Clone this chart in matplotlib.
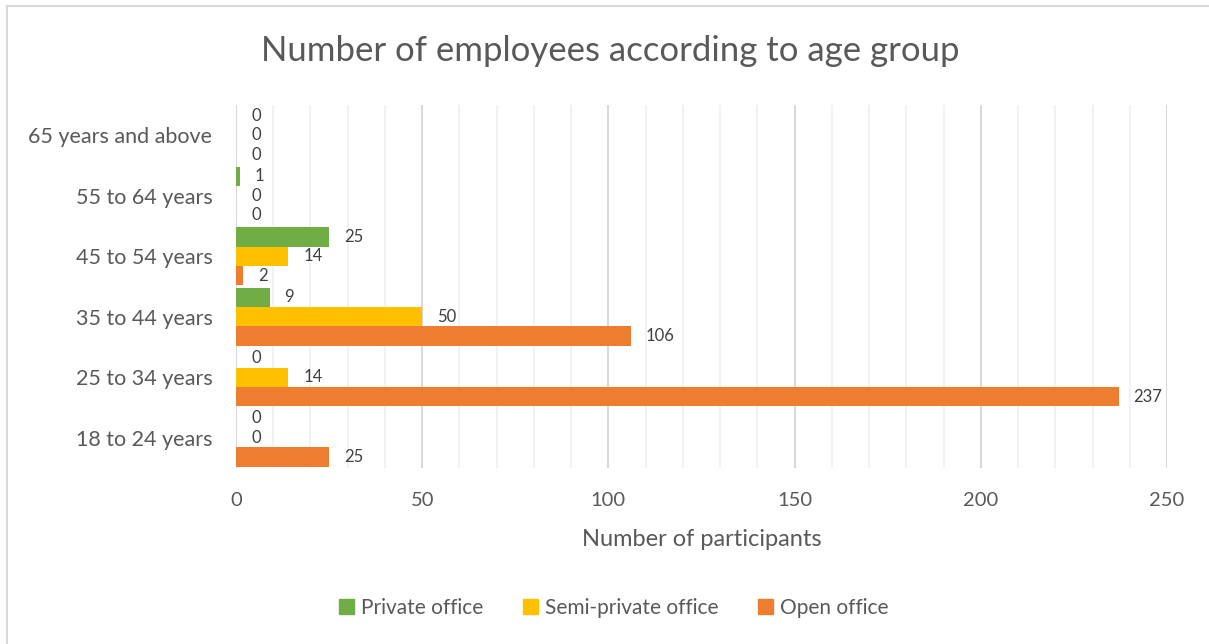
import numpy as np
import matplotlib.pyplot as plt
from matplotlib.lines import Line2D
from matplotlib.patches import Patch
from matplotlib.ticker import MultipleLocator

plt.rcParams['font.family'] = ['Lato', 'DejaVu Sans']

# Age groups, bottom to top
categories = ["18 to 24 years", "25 to 34 years", "35 to 44 years",
              "45 to 54 years", "55 to 64 years", "65 years and above"]
private = [0, 0, 9, 25, 1, 0]
semi_private = [0, 14, 50, 14, 0, 0]
open_office = [25, 237, 106, 2, 0, 0]

series = [("Private office", private, "#70AD47"),
          ("Semi-private office", semi_private, "#FFC000"),
          ("Open office", open_office, "#ED7D31")]

fig = plt.figure(figsize=(12.09, 6.44), dpi=100)
ax = fig.add_axes([236 / 1209, 1 - 468 / 644, 931 / 1209, 363 / 644])

y = np.arange(len(categories))
h = 0.32
for i, (name, vals, col) in enumerate(series):
    pos = y + (1 - i) * h
    bars = ax.barh(pos, vals, height=h, color=col, label=name, zorder=3)
    for b, v in zip(bars, vals):
        ax.annotate(str(v), (b.get_width(), b.get_y() + b.get_height() / 2),
                    xytext=(15, 0), textcoords='offset pixels',
                    ha='left', va='center', fontsize=12, color='#404040')

ax.set_xlim(0, 250)
ax.set_ylim(-0.5, len(categories) - 0.5)
ax.set_yticks(y)
ax.set_yticklabels(categories)
ax.xaxis.set_major_locator(MultipleLocator(50))
ax.xaxis.set_minor_locator(MultipleLocator(10))
ax.grid(axis='x', which='major', color='#D9D9D9', lw=1.5, zorder=0)
ax.grid(axis='x', which='minor', color='#F2F2F2', lw=1.5, zorder=0)
ax.tick_params(which='both', length=0)
ax.tick_params(axis='x', labelsize=14.5, labelcolor='#595959', pad=17)
ax.tick_params(axis='y', labelsize=15.5, labelcolor='#595959', pad=17)
for s in ax.spines.values():
    s.set_visible(False)

ax.set_xlabel("Number of participants", fontsize=17, color='#595959', labelpad=15)
fig.text(610 / 1209, 1 - 51 / 644, "Number of employees according to age group",
         ha='center', va='center', fontsize=25, color='#595959')

handles = [Patch(color=c, label=n) for n, _, c in series]
fig.legend(handles=handles, loc='center', bbox_to_anchor=(614 / 1209, 1 - 608 / 644),
           ncol=3, frameon=False, fontsize=15, labelcolor='#595959',
           handlelength=0.7, handleheight=0.7, handletextpad=0.35, columnspacing=1.9)

# chart border (left and top edges)
fig.add_artist(Line2D([7 / 1209, 7 / 1209], [0, 1 - 6 / 644], color='#D9D9D9', lw=1.5))
fig.add_artist(Line2D([7 / 1209, 1], [1 - 6 / 644, 1 - 6 / 644], color='#D9D9D9', lw=1.5))

fig.savefig("out.png", dpi=100)
